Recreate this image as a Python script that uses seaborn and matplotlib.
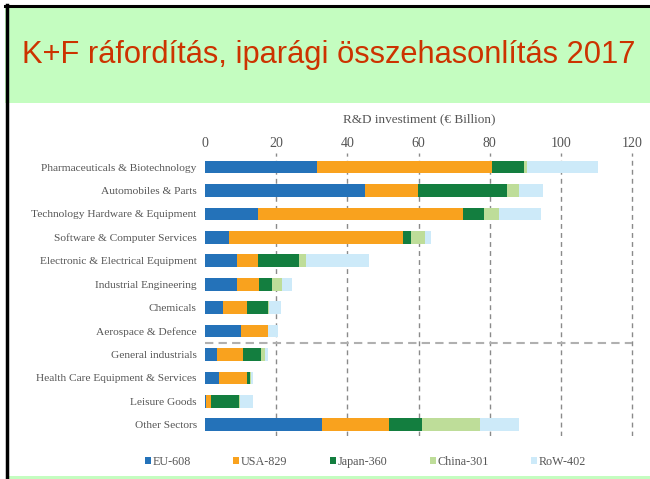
import pandas as pd
import matplotlib.pyplot as plt
import seaborn as sns
from matplotlib.patches import Rectangle, Patch

sectors = ["Pharmaceuticals & Biotechnology", "Automobiles & Parts",
           "Technology Hardware & Equipment", "Software & Computer Services",
           "Electronic & Electrical Equipment", "Industrial Engineering",
           "Chemicals", "Aerospace & Defence", "General industrials",
           "Health Care Equipment & Services", "Leisure Goods", "Other Sectors"]
regions = ["EU-608", "USA-829", "Japan-360", "China-301", "RoW-402"]

eu = [31.4, 44.9, 14.9, 6.8, 9.0, 9.0, 5.1, 10.1, 3.5, 3.8, 0.4, 33.0]
usa = [49.3, 14.9, 57.6, 48.7, 5.9, 6.3, 6.7, 7.6, 7.1, 8.0, 1.2, 18.7]
japan = [9.0, 24.9, 5.8, 2.3, 11.4, 3.5, 5.8, 0.0, 5.1, 0.8, 7.9, 9.3]
china = [0.8, 3.5, 4.4, 4.1, 2.1, 2.9, 0.3, 0.0, 1.2, 0.3, 0.3, 16.2]
row = [19.8, 6.8, 11.8, 1.5, 17.7, 2.7, 3.4, 2.7, 0.8, 0.6, 3.6, 11.0]

colors = ["#2472b9", "#f9a21e", "#137e3f", "#bedd99", "#cdeaf9"]
ticks = [0, 20, 40, 60, 80, 100, 120]

df = pd.DataFrame({"sector": sectors, "EU-608": eu, "USA-829": usa,
                   "Japan-360": japan, "China-301": china, "RoW-402": row})
cum = df[regions].cumsum(axis=1)
cum["sector"] = sectors

fig = plt.figure(figsize=(6.5, 4.79), dpi=100)
fig.patch.set_facecolor("white")

# slide decoration
fig.patches.append(Rectangle((5/650, 1-103/479), 645/650, 98/479, transform=fig.transFigure,
                             facecolor="#c4fdc0", edgecolor="none", zorder=-2))
fig.patches.append(Rectangle((8/650, 0), 642/650, 3/479, transform=fig.transFigure,
                             facecolor="#c4fdc0", edgecolor="none", zorder=-2))
fig.add_artist(plt.Line2D([5/650, 1], [1-6/479, 1-6/479], color="black", lw=2.2,
                          transform=fig.transFigure))
fig.add_artist(plt.Line2D([6.5/650, 6.5/650], [0, 1-5/479], color="black", lw=2.5,
                          transform=fig.transFigure))
fig.text(22/650, 1-55/479, "K+F ráfordítás, iparági összehasonlítás 2017",
         fontsize=22.2, color="#cc3300", family="Liberation Sans", va="center", ha="left")

ax = fig.add_axes([205/650, 1-436/479, 429/650, 283/479])
for reg, col in zip(regions[::-1], colors[::-1]):
    sns.barplot(data=cum, x=reg, y="sector", order=sectors, orient="h", color=col,
                saturation=1, width=0.54, errorbar=None, ax=ax, zorder=2)

ax.set_xlim(0, 120.5)
ax.set_ylim(11.48, -0.6)
ax.vlines(ticks[1:], 11.48, -0.6, colors="#8a8a8a", linestyles=(0, (3.5, 3)), lw=1, zorder=0)
ax.hlines(7.5, 0, 120, colors="#b0b0b0", linestyles=(0, (4, 2.5)), lw=1.5, zorder=1)

ax.xaxis.tick_top()
ax.xaxis.set_label_position("top")
ax.set_xticks(ticks)
ax.set_xlabel("R&D investiment (€ Billion)", family="Liberation Serif", fontsize=9.5,
              color="#555555", labelpad=11)
ax.set_ylabel("")
ax.tick_params(length=0, pad=2, labelcolor="#555555")
for lab in ax.get_xticklabels():
    lab.set_family("Liberation Serif")
    lab.set_fontsize(10)
for lab in ax.get_yticklabels():
    lab.set_family("Liberation Serif")
    lab.set_fontsize(8.2)
ax.tick_params(axis="y", pad=6)
for s in ax.spines.values():
    s.set_visible(False)
ax.set_facecolor("none")

handles = [Patch(facecolor=c, edgecolor="none") for c in colors]
leg = fig.legend(handles, regions, loc="center", bbox_to_anchor=(365.5/650, 1-462/479),
                 ncol=5, frameon=False, handlelength=0.5, handleheight=0.5,
                 handletextpad=0.15, columnspacing=3.5,
                 prop={"family": "Liberation Serif", "size": 8.7})
for t in leg.get_texts():
    t.set_color("#555555")

fig.savefig("out.png", dpi=100)
